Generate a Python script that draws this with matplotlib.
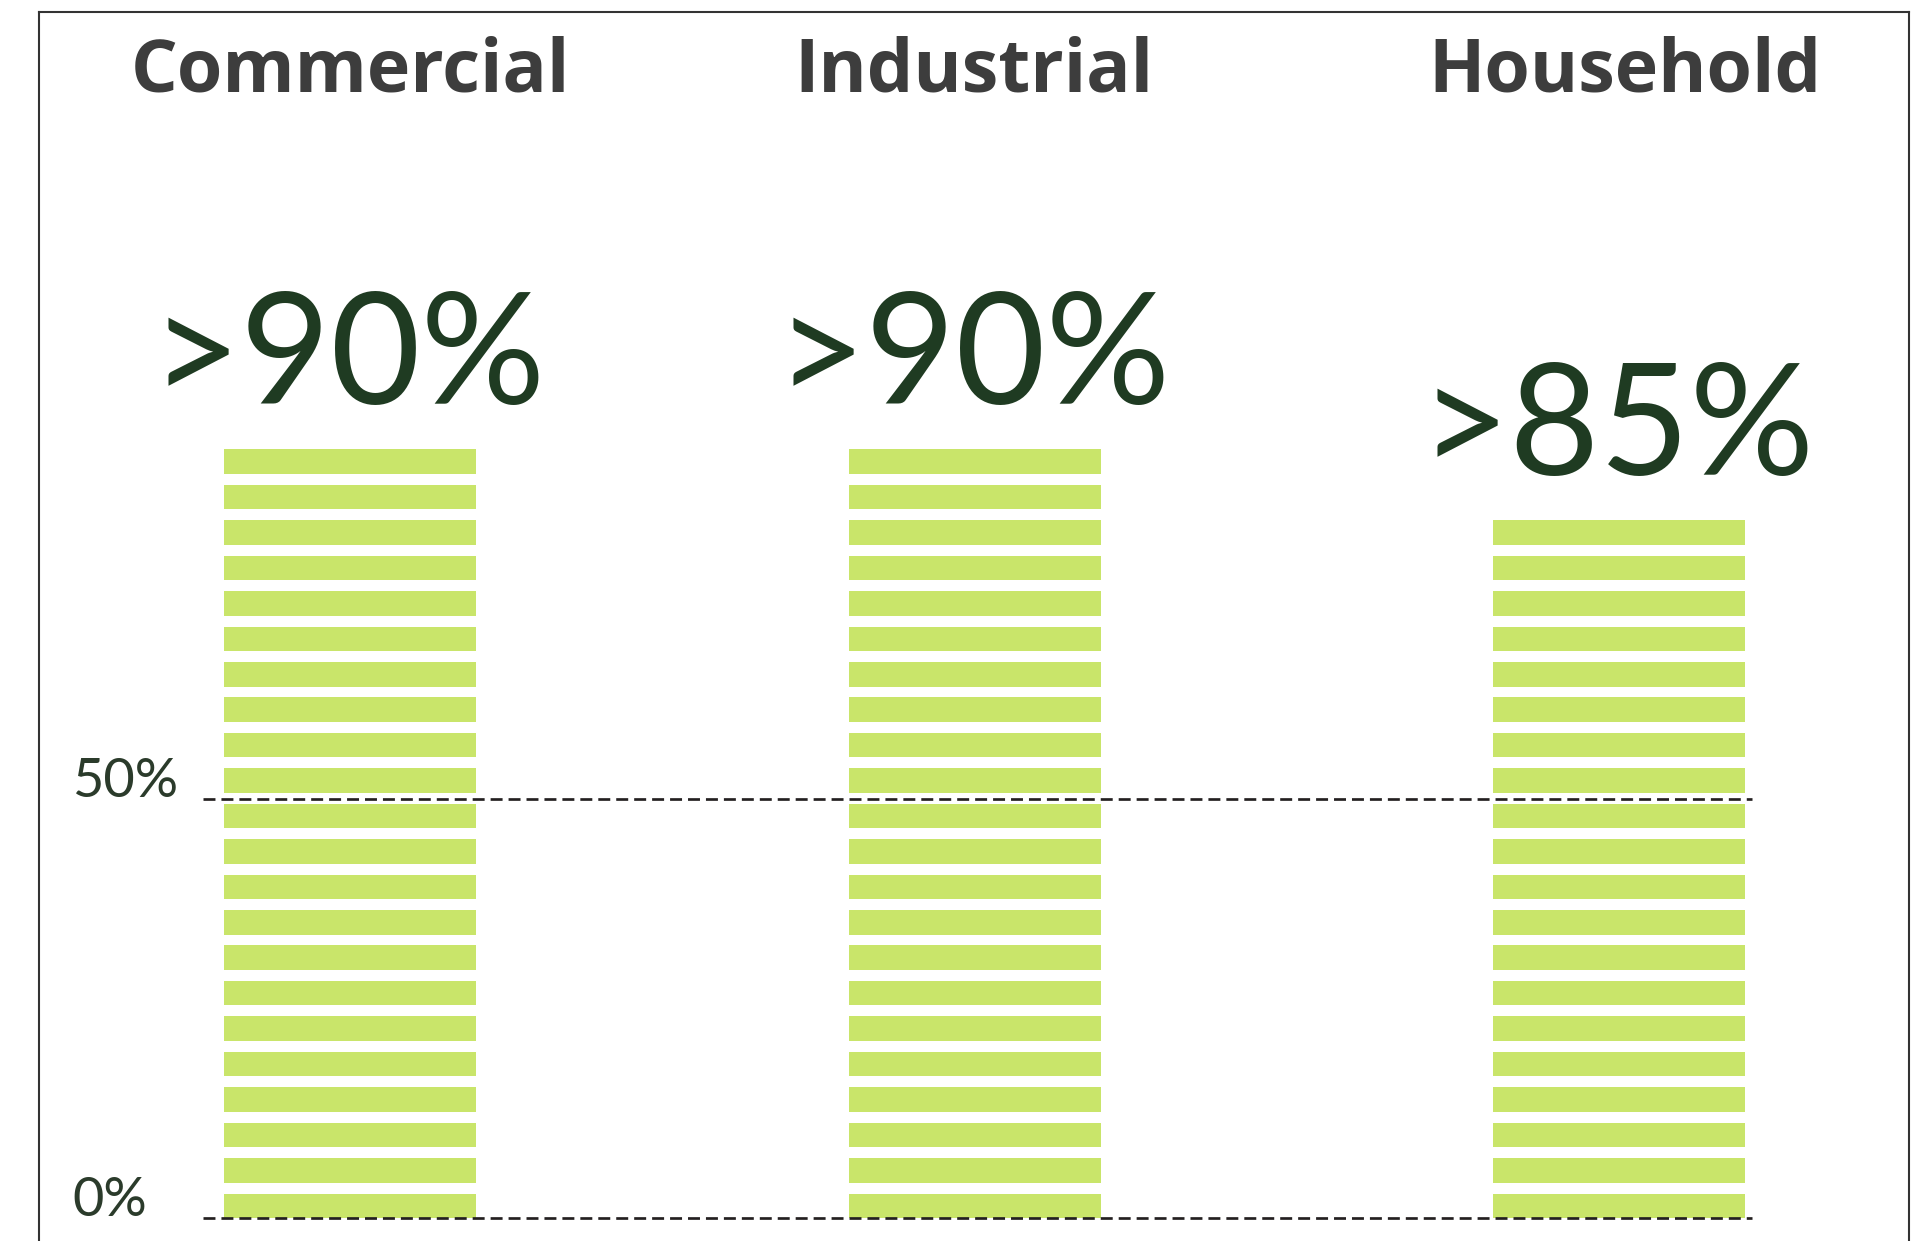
import matplotlib
matplotlib.use("Agg")
import matplotlib.pyplot as plt
from matplotlib.lines import Line2D

# ---- data ----
categories = ["Commercial", "Industrial", "Household"]
value_labels = [">90%", ">90%", ">85%"]
stripe_counts = [22, 22, 20]          # number of striped segments in each bar
y_ticks = [0, 50]
y_tick_labels = ["0%", "50%"]

# ---- layout (pixels of a 1933x1241 canvas) ----
W, H = 1933, 1241
x_centers = [350, 975.5, 1619.5]
bar_width = 252
zero_px, fifty_px = 1218, 799
px_per_pct = (zero_px - fifty_px) / 50.0
stripe_period = 35.43 / px_per_pct
stripe_thick = 24.5 / px_per_pct

bar_color = "#C9E56A"
title_color = "#3d3d3d"
number_color = "#1f3b22"
tick_color = "#2b3b2b"

fig = plt.figure(figsize=(W / 100, H / 100), dpi=100)
ax = fig.add_axes([0, 0, 1, 1])
ax.axis("off")
ax.set_xlim(0, W)
ax.set_ylim(-(H - zero_px) / px_per_pct, zero_px / px_per_pct)

# striped bars
for xc, n in zip(x_centers, stripe_counts):
    bottoms = [k * stripe_period for k in range(n)]
    ax.bar([xc] * n, [stripe_thick] * n, bottom=bottoms, width=bar_width,
           color=bar_color, linewidth=0, zorder=2)

# value labels above bars
for xc, n, lab in zip(x_centers, stripe_counts, value_labels):
    top = (n - 1) * stripe_period + stripe_thick
    ax.text(xc - 2, top + 45 / px_per_pct, lab, ha="center", va="baseline",
            fontsize=112, family="Lato", color=number_color, zorder=3)

# dashed reference lines and their labels
for yv, lab in zip(y_ticks, y_tick_labels):
    ax.hlines(yv, 203, 1752, colors="#231f20", linewidth=1.94,
              linestyles=(0, (4.44, 2.22)), zorder=4)
    ax.text(72, yv + 1.5 / px_per_pct, lab, ha="left", va="baseline",
            fontsize=39, family="Lato", color=tick_color, zorder=4)

# category titles
for xc, cat in zip([350, 974, 1625], categories):
    fig.text(xc / W, 1 - 92 / H, cat, ha="center", va="baseline",
             fontsize=53, family="Open Sans", fontweight="bold",
             color=title_color)

# frame (left, top, right)
frame_kw = dict(color="#333333", linewidth=1.5, transform=fig.transFigure)
fig.add_artist(Line2D([39 / W, 39 / W], [0, 1 - 12 / H], **frame_kw))
fig.add_artist(Line2D([39 / W, 1909 / W], [1 - 12 / H, 1 - 12 / H], **frame_kw))
fig.add_artist(Line2D([1909 / W, 1909 / W], [0, 1 - 12 / H], **frame_kw))

fig.savefig("out.png", dpi=100, facecolor="white")
